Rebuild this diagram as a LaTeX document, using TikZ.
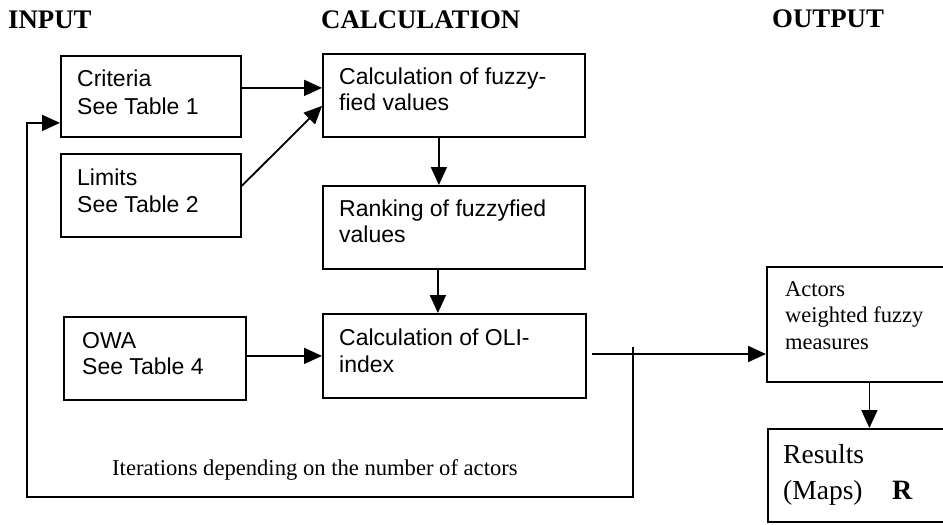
\documentclass[tikz,border=0pt]{standalone}
\usepackage{fontspec}
\setmainfont{Liberation Serif}
\newfontfamily\arialf{Liberation Sans}
\usetikzlibrary{arrows.meta}
\begin{document}
\begin{tikzpicture}[x=1pt,y=-1pt,
  box/.style={draw, line width=1.8pt, inner sep=0pt, anchor=north west},
  atxt/.style={anchor=base west, inner sep=0pt, font=\arialf\fontsize{23}{27}\selectfont},
  ttxt/.style={anchor=base west, inner sep=0pt, font=\fontsize{22.5}{27}\selectfont},
  hd/.style={anchor=base west, inner sep=0pt, font=\bfseries\fontsize{26.8}{30}\selectfont},
  arr/.style={line width=1.8pt, -{Triangle[length=18pt,width=16pt]}},
  ln/.style={line width=1.8pt}]
\useasboundingbox (0,0) rectangle (943,525);
\clip (0,0) rectangle (943,525);
\fill[white] (0,0) rectangle (943,525);

% headers
\node[hd] (hin) at (8,28) {INPUT};
\node[hd] (hcalc) at (321,28) {CALCULATION};
\node[hd] (hout) at (772,27) {OUTPUT};

% boxes
\node[box, minimum width=180pt, minimum height=81pt] (crit) at (60,55) {};
\node[box, minimum width=180pt, minimum height=83pt] (lim) at (60,153) {};
\node[box, minimum width=262pt, minimum height=83pt] (calc) at (322,53) {};
\node[box, minimum width=262pt, minimum height=83pt] (rank) at (322,185) {};
\node[box, minimum width=182pt, minimum height=83pt] (owa) at (63,316) {};
\node[box, minimum width=263pt, minimum height=84pt] (oli) at (322,313) {};
\node[box, minimum width=185pt, minimum height=115pt] (act) at (766,266) {};
\node[box, minimum width=185pt, minimum height=93pt] (res) at (767,428) {};

% texts
\node[atxt] (crit1) at (77,86) {Criteria};
\node[atxt] (crit2) at (77,114) {See Table 1};
\node[atxt] (lim1) at (77,185) {Limits};
\node[atxt] (lim2) at (77,212) {See Table 2};
\node[atxt] (calc1) at (339,84) {Calculation of fuzzy-};
\node[atxt] (calc2) at (339,110) {fied values};
\node[atxt] (rank1) at (339,216) {Ranking of fuzzyfied};
\node[atxt] (rank2) at (339,242) {values};
\node[atxt] (owa1) at (82,348) {OWA};
\node[atxt] (owa2) at (82,374) {See Table 4};
\node[atxt] (oli1) at (339,345) {Calculation of OLI-};
\node[atxt] (oli2) at (339,372) {index};
\node[ttxt] (act1) at (785,296) {Actors};
\node[ttxt] (act2) at (785,322.5) {weighted fuzzy};
\node[ttxt] (act3) at (785,349) {measures};
\node[anchor=base west, inner sep=0pt, font=\fontsize{27.5}{30}\selectfont] (res1) at (783,463) {Results};
\node[anchor=base west, inner sep=0pt, font=\fontsize{27.5}{30}\selectfont] (res2) at (783,499) {(Maps)};
\node[anchor=base west, inner sep=0pt, font=\bfseries\fontsize{28}{30}\selectfont] (resR) at (892,499) {R};
\node[anchor=base west, inner sep=0pt, font=\fontsize{22.6}{27}\selectfont] (iter) at (112,475) {Iterations depending on the number of actors};

% connectors
\coordinate (s) at (592,354);
\coordinate (j) at (633,347);
\coordinate (br) at (633,497);
\coordinate (bl) at (27,497);
\draw[arr] ([yshift=8.5pt]crit.east) -- ([yshift=8.5pt]crit.east -| calc.west);
\draw[arr] ([yshift=9.5pt]lim.east) -- ([yshift=-10.5pt]calc.west);
\draw[arr] ([xshift=-15pt]calc.south) -- ([xshift=-15pt]calc.south |- rank.north);
\draw[arr] ([xshift=-16pt]rank.south) -- ([xshift=-16pt]rank.south |- oli.north);
\draw[arr] (owa.east |- oli.west) -- (oli.west);
\draw[arr] (s) -- (s -| act.west);
\draw[arr] (j) -- (br) -- (bl) |- ([yshift=-26.5pt]crit.west);
\draw[arr] ([xshift=10pt]act.south) -- ([xshift=10pt]act.south |- res.north);
\end{tikzpicture}
\end{document}
